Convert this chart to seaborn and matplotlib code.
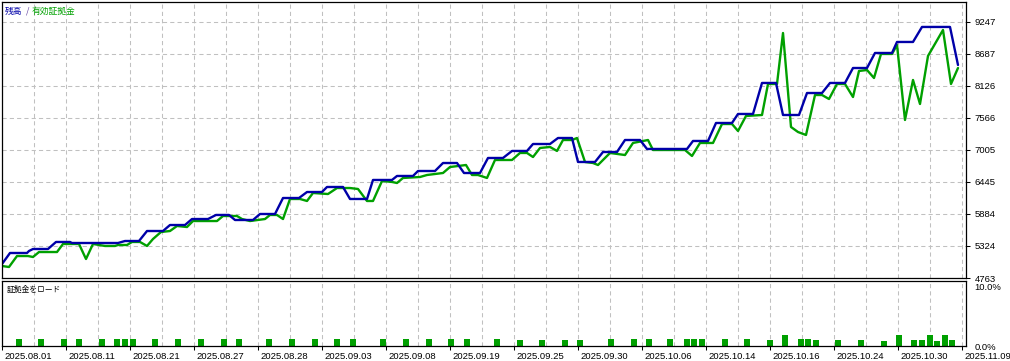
import numpy as np
import pandas as pd
import matplotlib
matplotlib.use("Agg")
import matplotlib.pyplot as plt
import seaborn as sns
from matplotlib.ticker import MultipleLocator
from matplotlib.transforms import ScaledTranslation

# ---------------- data ----------------
# x = position along the deal sequence (chart index scale)
bal_x = [0, 8, 25, 27, 31, 46, 54, 68, 70, 116, 123, 137, 145, 161, 168, 183, 190, 206,
         214, 227, 233, 251, 258, 273, 281, 297, 305, 320, 325, 341, 348, 365, 371, 390,
         395, 411, 416, 433, 441, 455, 462, 478, 486, 501, 510, 525, 531, 548, 556, 570,
         576, 593, 601, 615, 623, 638, 645, 685, 691, 706, 714, 730, 736, 751, 760, 774,
         781, 797, 805, 820, 828, 843, 851, 865, 873, 890, 895, 911, 920, 948, 956]
bal_v = [5008, 5201, 5201, 5236, 5271, 5271, 5394, 5394, 5376, 5376, 5411, 5411, 5586, 5586,
         5691, 5691, 5796, 5796, 5867, 5867, 5779, 5779, 5884, 5884, 6164, 6164, 6269, 6269,
         6357, 6357, 6147, 6147, 6480, 6480, 6550, 6550, 6637, 6637, 6777, 6777, 6602, 6602,
         6865, 6865, 6988, 6988, 7110, 7110, 7215, 7215, 6795, 6795, 6970, 6970, 7180, 7180,
         7023, 7023, 7163, 7163, 7478, 7478, 7636, 7636, 8179, 8179, 7618, 7618, 8003, 8003,
         8179, 8179, 8441, 8441, 8704, 8704, 8897, 8897, 9160, 9160, 8494]

eq_x = [0, 7, 15, 26, 31, 37, 55, 61, 77, 84, 91, 103, 113, 116, 125, 130, 138, 145, 151,
        159, 168, 175, 185, 191, 215, 221, 235, 240, 248, 263, 268, 275, 281, 288, 298, 305,
        311, 326, 335, 348, 356, 365, 371, 380, 390, 395, 401, 418, 425, 441, 448, 464, 470,
        476, 485, 493, 510, 518, 525, 531, 538, 548, 555, 561, 570, 575, 583, 591, 596, 608,
        623, 631, 646, 651, 683, 690, 698, 711, 720, 730, 736, 744, 760, 766, 775, 781, 789,
        796, 804, 813, 820, 827, 835, 843, 851, 857, 865, 872, 879, 890, 895, 903, 911, 918,
        926, 941, 949, 956]
eq_v = [4973, 4956, 5148, 5148, 5131, 5218, 5218, 5359, 5359, 5096, 5359, 5324, 5324, 5341,
        5341, 5394, 5394, 5324, 5446, 5569, 5586, 5674, 5656, 5761, 5761, 5849, 5849, 5796,
        5761, 5796, 5867, 5867, 5796, 6147, 6147, 6112, 6252, 6234, 6339, 6339, 6322, 6112,
        6112, 6462, 6445, 6427, 6515, 6532, 6567, 6602, 6707, 6742, 6567, 6567, 6515, 6830,
        6830, 6953, 6953, 6882, 7040, 7058, 6988, 7180, 7180, 7215, 6795, 6777, 6742, 6953,
        6917, 7128, 7180, 7005, 7005, 6900, 7128, 7128, 7460, 7460, 7338, 7601, 7618, 8161,
        8161, 9054, 7408, 7320, 7268, 7968, 7968, 7898, 8161, 8161, 7933, 8389, 8406, 8266,
        8687, 8687, 8844, 7531, 8231, 7811, 8652, 9107, 8161, 8441]

load_x = [17, 39, 62, 77, 100, 115, 123, 131, 153, 176, 199, 222, 237, 267, 290, 313, 335,
          351, 381, 404, 427, 449, 465, 495, 518, 540, 563, 578, 609, 632, 647, 668,
          685, 692, 700, 723, 745, 768, 783, 799, 806, 814, 836, 859, 882, 897, 912, 920,
          928, 935, 943, 950]
load_pct = [1.2, 1.2, 1.2, 1.2, 1.2, 1.2, 1.2, 1.2, 1.2, 1.2, 1.2, 1.2, 1.2, 1.2, 1.2, 1.2, 1.2,
            1.2, 1.2, 1.2, 1.2, 1.2, 1.2, 1.2, 1.0, 1.0, 1.0, 1.0, 1.2, 1.2, 1.2, 1.2,
            1.2, 1.2, 1.2, 1.2, 1.2, 1.0, 1.9, 1.2, 1.2, 1.0, 1.0, 1.0, 0.8, 1.9, 1.0, 1.0,
            1.9, 0.8, 1.9, 1.0]

y_ticks = [4763, 5324, 5884, 6445, 7005, 7566, 8126, 8687, 9247]
date_labels = ["2025.08.01", "2025.08.11", "2025.08.21", "2025.08.27", "2025.08.28",
               "2025.09.03", "2025.09.08", "2025.09.19", "2025.09.25", "2025.09.30",
               "2025.10.06", "2025.10.14", "2025.10.16", "2025.10.24", "2025.10.30",
               "2025.11.09"]

BLUE = "#0000A8"
GREEN = "#00A000"
GRID = "#c0c0c0"

# ---------------- figure ----------------
sns.set_style("white")
plt.rcParams['font.family'] = ['Liberation Sans', 'Noto Sans CJK JP', 'DejaVu Sans']

W, H = 1010, 361
fig = plt.figure(figsize=(W / 100, H / 100), dpi=100)
ax = fig.add_axes([2 / W, 83 / H, 964 / W, 276 / H])
ax2 = fig.add_axes([2 / W, 15 / H, 964 / W, 65 / H])

df_eq = pd.DataFrame({"x": eq_x, "v": eq_v})
df_bal = pd.DataFrame({"x": bal_x, "v": bal_v})
sns.lineplot(data=df_eq, x="x", y="v", sort=False, color=GREEN, lw=1.7, ax=ax)
sns.lineplot(data=df_bal, x="x", y="v", sort=False, color=BLUE, lw=1.7, ax=ax)

ax.set_xlim(0, 964)
ax.set_ylim(4763, 9597)
ax.set_xlabel("")
ax.set_ylabel("")
ax.yaxis.tick_right()
ax.set_yticks(y_ticks)
ax.set_yticklabels([str(v) for v in y_ticks])
ax.tick_params(axis="y", direction="out", length=3, width=0.75, pad=3,
               labelsize=6.8, colors="black", right=True)
ax.xaxis.set_major_locator(MultipleLocator(32))
ax.tick_params(axis="x", length=0, labelbottom=False)
ax.grid(True, color=GRID, ls=(0, (4, 3)), lw=0.75)

# legend-like title
ax.annotate("残高", xy=(0, 1), xycoords="axes fraction", xytext=(3, -9),
            textcoords="offset pixels", color=BLUE, fontsize=6.3, va="center",
            family=["Noto Sans CJK JP", "DejaVu Sans"])
ax.annotate("/", xy=(0, 1), xycoords="axes fraction", xytext=(24, -9),
            textcoords="offset pixels", color="#6040a0", fontsize=6.3, va="center",
            family=["Noto Sans CJK JP", "DejaVu Sans"])
ax.annotate("有効証拠金", xy=(0, 1), xycoords="axes fraction", xytext=(30, -9),
            textcoords="offset pixels", color=GREEN, fontsize=6.3, va="center",
            family=["Noto Sans CJK JP", "DejaVu Sans"])

# margin load panel
ax2.bar(load_x, load_pct, width=6, color=GREEN, align="center", linewidth=0)
ax2.set_xlim(0, 964)
ax2.set_ylim(0, 11.0)
ax2.yaxis.tick_right()
ax2.set_yticks([0, 10])
ax2.set_yticklabels(["0.0%", "10.0%"])
ax2.tick_params(axis="y", length=0, pad=6, labelsize=6.8, colors="black", right=True)
ax2.set_xticks(np.arange(0, 961, 64))
ax2.set_xticklabels(date_labels)
ax2.xaxis.set_minor_locator(MultipleLocator(32))
ax2.tick_params(axis="x", which="major", direction="out", length=3, width=0.75,
                pad=1, labelsize=6.8, colors="black", bottom=True)
ax2.tick_params(axis="x", which="minor", length=0)
ax2.grid(True, which="both", axis="x", color=GRID, ls=(0, (4, 3)), lw=0.75)
ax2.grid(False, axis="y")
offset = ScaledTranslation(2 / 100, 0, fig.dpi_scale_trans)
for lbl in ax2.get_xticklabels():
    lbl.set_ha("left")
    lbl.set_transform(lbl.get_transform() + offset)
ax2.annotate("証拠金をロード", xy=(0, 1), xycoords="axes fraction", xytext=(5, -9),
             textcoords="offset pixels", color="black", fontsize=5.6, va="center",
             family=["Noto Sans CJK JP", "DejaVu Sans"])

for a in (ax, ax2):
    for s in a.spines.values():
        s.set_visible(True)
        s.set_color("black")
        s.set_linewidth(0.9)

fig.savefig("out.png", dpi=100, facecolor="white")
